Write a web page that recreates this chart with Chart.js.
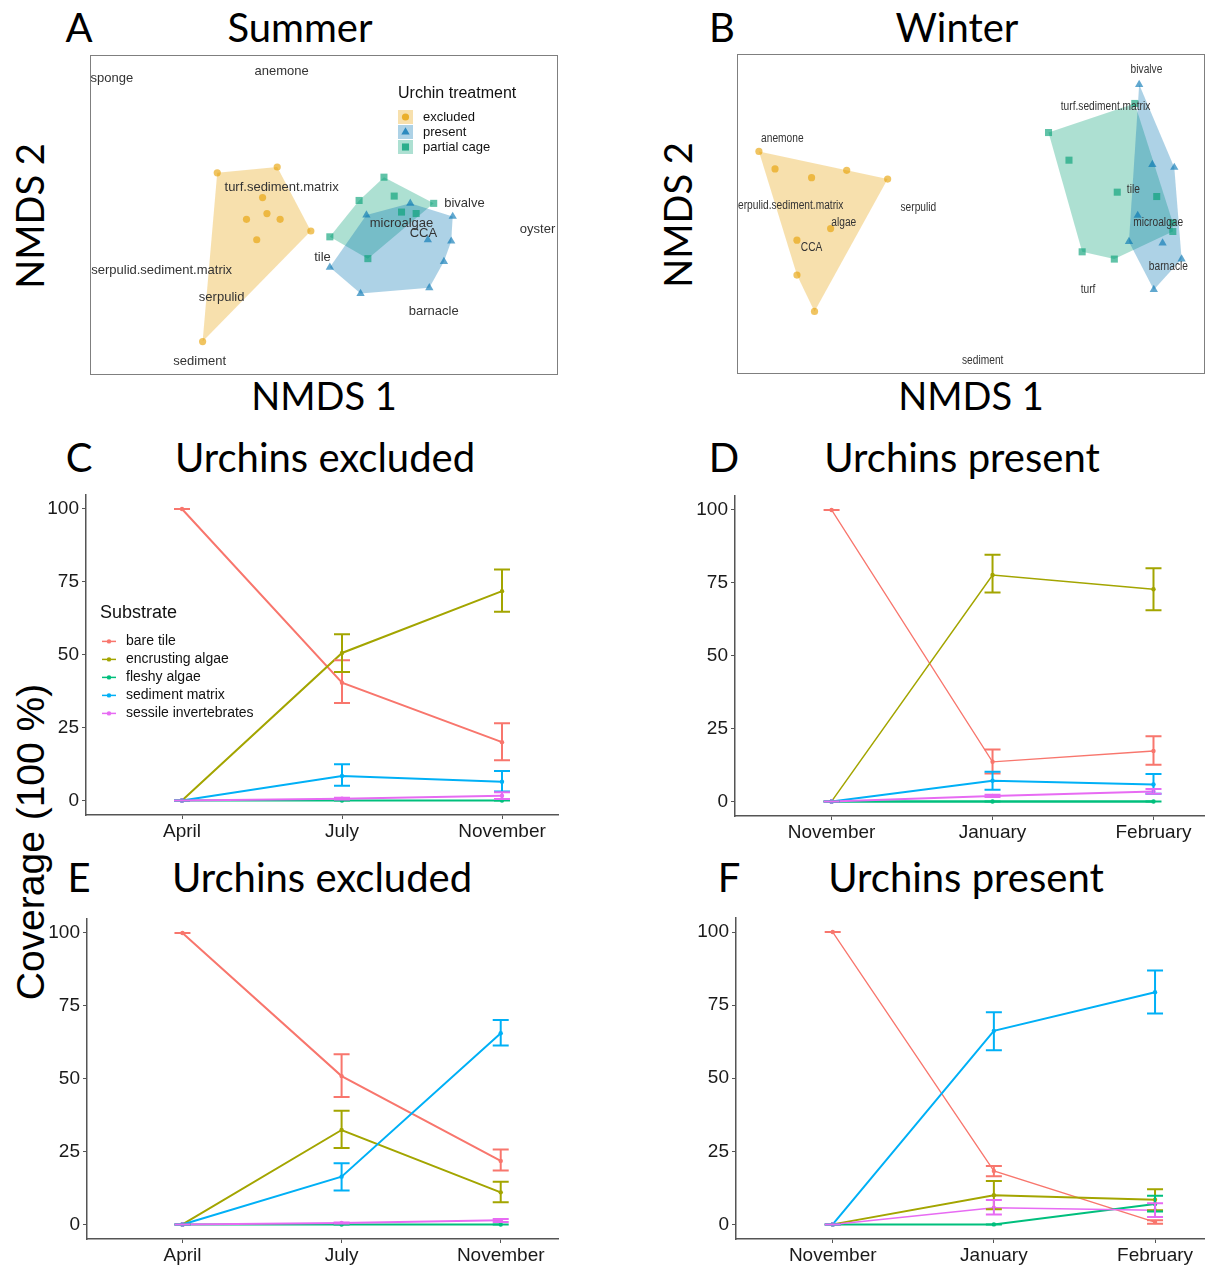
<!DOCTYPE html>
<html>
<head>
<meta charset="utf-8">
<script src="https://cdn.jsdelivr.net/npm/chart.js@4.4.1/dist/chart.umd.min.js"></script>
<style>
  body { margin: 0; background: #fff; width: 1205px; height: 1268px; position: relative; overflow: hidden; }
  canvas { position: absolute; }
  .t { position: absolute; font-family: Lato, "Open Sans", sans-serif; font-size: 40px; line-height: 1; color: #000; white-space: nowrap; transform: translateX(-50%); }
  .rot { position: absolute; line-height: 1; color: #000; white-space: nowrap; transform: translate(-50%, -50%) rotate(-90deg); }
</style>
</head>
<body>
<div class="t" style="left:79px;top:7px">A</div>
<div class="t" style="left:300px;top:7px">Summer</div>
<div class="t" style="left:722px;top:7px">B</div>
<div class="t" style="left:957px;top:7px">Winter</div>
<div class="t" style="left:324px;top:376px;font-size:38px">NMDS 1</div>
<div class="t" style="left:971px;top:376px;font-size:38px">NMDS 1</div>
<div class="rot" style="left:29px;top:216px;font-family:Lato,sans-serif;font-size:38px">NMDS 2</div>
<div class="rot" style="left:677px;top:215px;font-family:Lato,sans-serif;font-size:38px">NMDS 2</div>

<div class="t" style="left:79px;top:437px">C</div>
<div class="t" style="left:325px;top:437px">Urchins excluded</div>
<div class="t" style="left:724px;top:437px">D</div>
<div class="t" style="left:962px;top:437px">Urchins present</div>
<div class="t" style="left:79px;top:857px">E</div>
<div class="t" style="left:322px;top:857px">Urchins excluded</div>
<div class="t" style="left:729px;top:857px">F</div>
<div class="t" style="left:966px;top:857px">Urchins present</div>
<div class="rot" style="left:30px;top:842px;font-family:'Liberation Sans',Arial,sans-serif;font-size:39px">Coverage (100 %)</div>

<canvas id="chartA" width="471" height="323" style="left:89px;top:54px"></canvas>
<canvas id="chartB" width="471" height="323" style="left:736px;top:53px"></canvas>
<canvas id="chartC" width="524" height="370" style="left:36px;top:480px"></canvas>
<canvas id="chartD" width="522" height="370" style="left:685px;top:481px"></canvas>
<canvas id="chartE" width="523" height="370" style="left:37px;top:904px"></canvas>
<canvas id="chartF" width="521" height="371" style="left:686px;top:903px"></canvas>

<script>
// --- NMDS ordinations (site scores per urchin treatment) ---
const treatments = ['excluded', 'present', 'partial cage'];

const summerExcluded = [[-0.73, 0.29], [-0.32, 0.33], [-0.42, 0.12], [-0.53, -0.03], [-0.39, 0.01], [-0.30, -0.03], [-0.46, -0.17], [-0.09, -0.11], [-0.83, -0.87]];
const summerPresent = [[0.59, 0.08], [0.29, 0.00], [0.88, -0.01], [0.71, -0.17], [0.87, -0.18], [0.82, -0.32], [0.04, -0.36], [0.25, -0.54], [0.72, -0.50]];
const summerPartial = [[0.41, 0.26], [0.24, 0.10], [0.48, 0.13], [0.75, 0.08], [0.53, 0.02], [0.63, 0.01], [0.04, -0.15], [0.30, -0.30]];
const summerSpecies = ['sponge', 'anemone', 'turf.sediment.matrix', 'bivalve', 'microalgae', 'CCA', 'oyster', 'tile', 'serpulid.sediment.matrix', 'serpulid', 'barnacle', 'sediment'];
const summerSpeciesX = [-1.45, -0.29, -0.29, 0.96, 0.53, 0.68, 1.46, -0.01, -1.11, -0.70, 0.75, -0.85];
const summerSpeciesY = [0.94, 0.99, 0.19, 0.08, -0.06, -0.13, -0.10, -0.29, -0.38, -0.57, -0.66, -1.01];

const winterExcluded = [[-1.45, 0.43], [-1.34, 0.31], [-1.09, 0.25], [-0.85, 0.30], [-0.57, 0.24], [-0.96, -0.10], [-1.19, -0.18], [-1.19, -0.42], [-1.07, -0.67]];
const winterPresent = [[1.15, 0.89], [1.24, 0.34], [1.39, 0.32], [1.14, -0.01], [1.08, -0.19], [1.31, -0.20], [1.44, -0.31], [1.25, -0.52]];
const winterPartial = [[0.53, 0.56], [1.12, 0.76], [0.67, 0.37], [1.00, 0.15], [1.27, 0.12], [1.38, -0.06], [1.38, -0.12], [0.76, -0.26], [0.98, -0.31]];
const winterSpecies = ['bivalve', 'turf.sediment.matrix', 'anemone', 'serpulid.sediment.matrix', 'serpulid', 'algae', 'CCA', 'tile', 'microalgae', 'barnacle', 'turf', 'sediment'];
const winterSpeciesX = [1.20, 0.92, -1.29, -1.25, -0.36, -0.87, -1.09, 1.11, 1.28, 1.35, 0.80, 0.08];
const winterSpeciesY = [0.99, 0.74, 0.52, 0.06, 0.04, -0.06, -0.23, 0.17, -0.06, -0.36, -0.52, -1.01];

// --- Substrate coverage (%), mean and error bar ends ---
const summerMonths = ['April', 'July', 'November'];
const winterMonths = ['November', 'January', 'February'];
const substrates = ['bare tile', 'encrusting algae', 'fleshy algae', 'sediment matrix', 'sessile invertebrates'];
const coverageTicks = [0, 25, 50, 75, 100];

const cMean = [[100, 40.4, 20.0], [0, 50.6, 71.8], [0, 0, 0], [0, 8.4, 6.4], [0, 0.6, 1.6]];
const cLow  = [[100, 33.4, 13.8], [0, 44.1, 64.7], [0, 0, 0], [0, 5.0, 3.1], [0, 0.3, 0.5]];
const cHigh = [[100, 48.1, 26.5], [0, 57.0, 79.2], [0, 0, 0], [0, 12.4, 10.1], [0, 0.9, 2.8]];

const dMean = [[100, 13.6, 17.3], [0, 77.7, 72.8], [0, 0, 0], [0, 7.1, 5.8], [0, 1.9, 3.4]];
const dLow  = [[100, 9.6, 12.6], [0, 71.7, 65.6], [0, 0, 0], [0, 4.0, 2.6], [0, 1.5, 2.6]];
const dHigh = [[100, 17.8, 22.4], [0, 84.6, 80.0], [0, 0, 0], [0, 10.2, 9.4], [0, 2.3, 4.3]];

const eMean = [[100, 50.9, 21.8], [0, 32.4, 11.0], [0, 0, 0], [0, 16.4, 65.6], [0, 0.5, 1.4]];
const eLow  = [[100, 43.7, 18.5], [0, 26.2, 7.6], [0, 0, 0], [0, 11.6, 61.4], [0, 0.3, 0.8]];
const eHigh = [[100, 58.4, 25.7], [0, 39.0, 14.6], [0, 0, 0], [0, 21.0, 70.1], [0, 0.7, 1.9]];

const fMean = [[100, 18.3, 0.8], [0, 10.0, 8.4], [0, 0, 7.0], [0, 66.2, 79.4], [0, 5.7, 4.8]];
const fLow  = [[100, 16.5, 0.2], [0, 5.2, 4.8], [0, 0, 4.4], [0, 59.6, 72.1], [0, 3.4, 2.5]];
const fHigh = [[100, 20.0, 1.4], [0, 14.8, 12.0], [0, 0, 9.8], [0, 72.6, 86.8], [0, 8.3, 7.2]];

const substrateColors = ['#F8766D', '#A3A500', '#00BF7D', '#00B0F6', '#E76BF3'];
const treatmentRgb = [[230, 159, 0], [0, 114, 178], [0, 158, 115]];
const treatmentShapes = ['circle', 'triangle', 'rect'];
const treatmentRadius = [3.6, 4.8, 5];

Chart.defaults.font.family = '"Liberation Sans", Arial, sans-serif';
Chart.defaults.animation = false;
Chart.defaults.events = [];
Chart.defaults.plugins.legend.display = false;
Chart.defaults.plugins.tooltip.enabled = false;

function rgba(c, a) { return 'rgba(' + c[0] + ',' + c[1] + ',' + c[2] + ',' + a + ')'; }

// convex hull (monotone chain), like chull() in R
function convexHull(points) {
    const p = points.slice().sort((a, b) => a[0] - b[0] || a[1] - b[1]);
    const cross = (o, a, b) => (a[0] - o[0]) * (b[1] - o[1]) - (a[1] - o[1]) * (b[0] - o[0]);
    const lower = [], upper = [];
    p.forEach(pt => {
        while (lower.length >= 2 && cross(lower[lower.length - 2], lower[lower.length - 1], pt) <= 0) lower.pop();
        lower.push(pt);
    });
    for (let i = p.length - 1; i >= 0; i--) {
        const pt = p[i];
        while (upper.length >= 2 && cross(upper[upper.length - 2], upper[upper.length - 1], pt) <= 0) upper.pop();
        upper.push(pt);
    }
    upper.pop(); lower.pop();
    return lower.concat(upper);
}

// --- plugins ---
const panelFrame = {
    id: 'panelFrame',
    afterDraw(chart) {
        const a = chart.chartArea, ctx = chart.ctx;
        ctx.save();
        ctx.strokeStyle = '#7f7f7f';
        ctx.lineWidth = 1;
        ctx.strokeRect(a.left + 0.5, a.top + 0.5, a.right - a.left - 1, a.bottom - a.top - 1);
        ctx.restore();
    }
};

const speciesText = {
    id: 'speciesText',
    afterDatasetsDraw(chart, args, opts) {
        const a = chart.chartArea, ctx = chart.ctx;
        const xs = chart.scales.x, ys = chart.scales.y;
        ctx.save();
        ctx.beginPath();
        ctx.rect(a.left, a.top, a.right - a.left, a.bottom - a.top);
        ctx.clip();
        ctx.fillStyle = '#333';
        ctx.font = opts.size + 'px "Liberation Sans", Arial, sans-serif';
        ctx.textAlign = 'center';
        ctx.textBaseline = 'middle';
        opts.names.forEach((name, i) => {
            ctx.save();
            ctx.translate(xs.getPixelForValue(opts.xs[i]), ys.getPixelForValue(opts.ys[i]));
            ctx.scale(opts.squeeze, 1);
            ctx.fillText(name, 0, 0);
            ctx.restore();
        });
        ctx.restore();
    }
};

const treatmentLegend = {
    id: 'treatmentLegend',
    afterDraw(chart, args, opts) {
        if (!opts.show) return;
        const a = chart.chartArea, ctx = chart.ctx;
        const x0 = a.left + 308;
        ctx.save();
        ctx.fillStyle = '#111';
        ctx.textBaseline = 'middle';
        ctx.font = '16px "Liberation Sans", Arial, sans-serif';
        ctx.fillText('Urchin treatment', x0, a.top + 39);
        ctx.font = '13px "Liberation Sans", Arial, sans-serif';
        treatments.forEach((name, i) => {
            const cy = a.top + 62 + i * 15;
            const r = treatmentRadius[i];
            ctx.fillStyle = rgba(treatmentRgb[i], 0.32);
            ctx.fillRect(x0, cy - 7, 15, 14);
            ctx.fillStyle = rgba(treatmentRgb[i], 0.75);
            ctx.beginPath();
            if (i === 0) ctx.arc(x0 + 7.5, cy, r, 0, Math.PI * 2);
            else if (i === 1) { ctx.moveTo(x0 + 7.5, cy - r); ctx.lineTo(x0 + 7.5 + r * 0.87, cy + r * 0.5); ctx.lineTo(x0 + 7.5 - r * 0.87, cy + r * 0.5); }
            else { const s = r * 0.707; ctx.rect(x0 + 7.5 - s, cy - s, 2 * s, 2 * s); }
            ctx.fill();
            ctx.fillStyle = '#111';
            ctx.fillText(name, x0 + 25, cy);
        });
        ctx.restore();
    }
};

const errorBars = {
    id: 'errorBars',
    afterDatasetsDraw(chart) {
        const ctx = chart.ctx, xs = chart.scales.x, ys = chart.scales.y;
        ctx.save();
        chart.data.datasets.forEach(ds => {
            ctx.strokeStyle = ds.borderColor;
            ctx.lineWidth = 2;
            ds.data.forEach((p, j) => {
                const px = xs.getPixelForValue(p.x);
                const lo = ys.getPixelForValue(ds.errLow[j]);
                const hi = ys.getPixelForValue(ds.errHigh[j]);
                ctx.beginPath();
                ctx.moveTo(px, lo); ctx.lineTo(px, hi);
                ctx.moveTo(px - 8, lo); ctx.lineTo(px + 8, lo);
                ctx.moveTo(px - 8, hi); ctx.lineTo(px + 8, hi);
                ctx.stroke();
            });
        });
        ctx.restore();
    }
};

const substrateLegend = {
    id: 'substrateLegend',
    afterDraw(chart, args, opts) {
        if (!opts.show) return;
        const a = chart.chartArea, ctx = chart.ctx;
        const x0 = a.left + 14;
        ctx.save();
        ctx.textBaseline = 'middle';
        ctx.fillStyle = '#111';
        ctx.font = '18px "Liberation Sans", Arial, sans-serif';
        ctx.fillText('Substrate', x0, a.top + 119);
        ctx.font = '14px "Liberation Sans", Arial, sans-serif';
        substrates.forEach((name, i) => {
            const cy = a.top + 147 + i * 18;
            ctx.strokeStyle = substrateColors[i];
            ctx.fillStyle = substrateColors[i];
            ctx.lineWidth = 1.5;
            ctx.beginPath();
            ctx.moveTo(x0 + 2, cy); ctx.lineTo(x0 + 16, cy);
            ctx.stroke();
            ctx.beginPath();
            ctx.arc(x0 + 9, cy, 2.2, 0, Math.PI * 2);
            ctx.fill();
            ctx.fillStyle = '#111';
            ctx.fillText(name, x0 + 26, cy);
        });
        ctx.restore();
    }
};

function makeNmds(id, groups, names, xs, ys, textSize, squeeze, showLegend) {
    const datasets = [];
    groups.forEach((pts, i) => {
        const h = convexHull(pts);
        h.push(h[0]);
        datasets.push({
            data: h.map(p => ({ x: p[0], y: p[1] })),
            showLine: true, fill: 'shape', tension: 0,
            backgroundColor: rgba(treatmentRgb[i], 0.32),
            borderColor: 'rgba(0,0,0,0)', borderWidth: 0, pointRadius: 0,
            order: 2
        });
    });
    groups.forEach((pts, i) => {
        datasets.push({
            data: pts.map(p => ({ x: p[0], y: p[1] })),
            pointStyle: treatmentShapes[i], pointRadius: treatmentRadius[i],
            backgroundColor: rgba(treatmentRgb[i], 0.62), borderWidth: 0,
            order: 1
        });
    });
    new Chart(document.getElementById(id), {
        type: 'scatter',
        data: { datasets: datasets },
        options: {
            responsive: false,
            layout: { autoPadding: false, padding: { left: 1, top: 1, right: 2, bottom: 2 } },
            scales: {
                x: { display: false, min: -1.6, max: 1.6 },
                y: { display: false, min: -1.1, max: 1.1 }
            },
            plugins: {
                speciesText: { names: names, xs: xs, ys: ys, size: textSize, squeeze: squeeze },
                treatmentLegend: { show: showLegend }
            }
        },
        plugins: [speciesText, panelFrame, treatmentLegend]
    });
}

function makeCoverage(id, months, mean, low, high, xMax, widths, showLegend) {
    const datasets = substrates.map((name, i) => ({
        label: name,
        data: mean[i].map((v, j) => ({ x: j + 1, y: v })),
        errLow: low[i],
        errHigh: high[i],
        showLine: true,
        borderColor: substrateColors[i],
        backgroundColor: substrateColors[i],
        borderWidth: widths[i],
        pointRadius: 2.2,
        pointBorderWidth: 0,
        order: substrates.length - 1 - i
    }));
    const axisLine = { display: true, color: '#555', width: 1.5 };
    const tickMarks = { display: true, drawOnChartArea: false, drawTicks: true, tickLength: 4, color: '#555', lineWidth: 1 };
    new Chart(document.getElementById(id), {
        type: 'scatter',
        data: { datasets: datasets },
        options: {
            responsive: false,
            layout: { autoPadding: false, padding: { top: 12, right: 2, left: 0, bottom: 0 } },
            scales: {
                x: {
                    type: 'linear', min: 0.4, max: xMax,
                    afterBuildTicks: s => { s.ticks = months.map((m, j) => ({ value: j + 1 })); },
                    afterFit: s => { s.height = 35; },
                    ticks: { callback: v => months[v - 1], font: { size: 19 }, color: '#1a1a1a', padding: 1, maxRotation: 0, autoSkip: false },
                    grid: tickMarks, border: axisLine
                },
                y: {
                    min: -5, max: 105,
                    afterBuildTicks: s => { s.ticks = coverageTicks.map(v => ({ value: v })); },
                    afterFit: s => { s.width = 50; },
                    ticks: { font: { size: 19 }, color: '#1a1a1a', padding: 3 },
                    grid: tickMarks, border: axisLine
                }
            },
            plugins: { substrateLegend: { show: showLegend } }
        },
        plugins: [errorBars, substrateLegend]
    });
}

makeNmds('chartA', [summerExcluded, summerPresent, summerPartial], summerSpecies, summerSpeciesX, summerSpeciesY, 13, 1, true);
makeNmds('chartB', [winterExcluded, winterPresent, winterPartial], winterSpecies, winterSpeciesX, winterSpeciesY, 12, 0.85, false);

makeCoverage('chartC', summerMonths, cMean, cLow, cHigh, 3.35, [2, 2, 2, 2, 2], true);
makeCoverage('chartD', winterMonths, dMean, dLow, dHigh, 3.32, [1.3, 1.5, 2.5, 2, 2], false);
makeCoverage('chartE', summerMonths, eMean, eLow, eHigh, 3.36, [2, 2, 2, 2, 2], false);
makeCoverage('chartF', winterMonths, fMean, fLow, fHigh, 3.31, [1.3, 2, 2, 2, 1.5], false);
</script>
</body>
</html>
